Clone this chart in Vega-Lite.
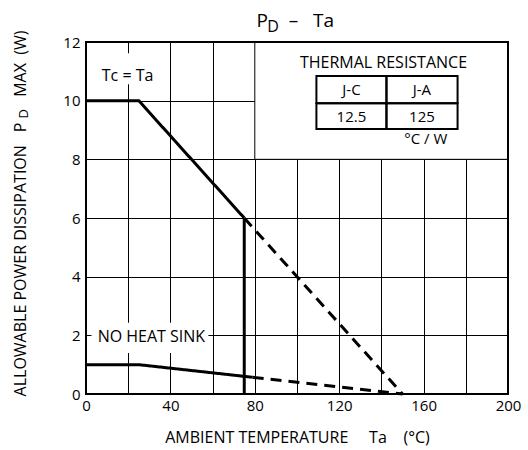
{
  "$schema": "https://vega.github.io/schema/vega-lite/v6.json",
  "width": 422,
  "height": 352,
  "autosize": {"type": "none"},
  "padding": {"left": 86, "top": 42, "right": 20, "bottom": 56},
  "background": "white",
  "config": {
    "view": {"stroke": null},
    "font": "Open Sans",
    "axis": {
      "grid": true,
      "gridColor": "black",
      "gridOpacity": 1,
      "gridWidth": 1,
      "ticks": false,
      "domain": false,
      "labelFont": "Open Sans",
      "labelFontSize": 15,
      "labelColor": "black",
      "labelFlush": false,
      "labelOverlap": false,
      "titleFont": "Open Sans",
      "titleFontSize": 16,
      "titleFontWeight": "normal",
      "titleColor": "black"
    }
  },
  "datasets": {
    "curves": [
      {"s": "tc", "style": "solid", "x": 0, "y": 10},
      {"s": "tc", "style": "solid", "x": 25, "y": 10},
      {"s": "tc", "style": "solid", "x": 75, "y": 6},
      {"s": "tc2", "style": "dashed", "x": 75, "y": 6},
      {"s": "tc2", "style": "dashed", "x": 150, "y": 0},
      {"s": "nh", "style": "solid", "x": 0, "y": 1},
      {"s": "nh", "style": "solid", "x": 25, "y": 1},
      {"s": "nh", "style": "solid", "x": 79, "y": 0.57},
      {"s": "nh2", "style": "dashed", "x": 79, "y": 0.57},
      {"s": "nh2", "style": "dashed", "x": 150, "y": 0}
    ],
    "inset": [{"x": 80, "x2": 200, "y": 8, "y2": 12}],
    "labelboxes": [
      {"x": 1.7, "x2": 36.3, "y": 10.56, "y2": 11.62},
      {"x": 2.6, "x2": 58, "y": 1.4, "y2": 2.43}
    ],
    "cells": [
      {"x": 109.2, "x2": 142.4, "y": 9.91, "y2": 10.84},
      {"x": 142.4, "x2": 176.1, "y": 9.91, "y2": 10.84},
      {"x": 109.2, "x2": 142.4, "y": 9.03, "y2": 9.91},
      {"x": 142.4, "x2": 176.1, "y": 9.03, "y2": 9.91}
    ],
    "notes16": [
      {"t": "THERMAL RESISTANCE", "x": 141, "y": 11.3},
      {"t": "Tc = Ta", "x": 19.7, "y": 10.85},
      {"t": "NO HEAT SINK", "x": 31, "y": 1.93}
    ],
    "notes15": [
      {"t": "J-C", "x": 125.8, "y": 10.36},
      {"t": "J-A", "x": 159.2, "y": 10.36},
      {"t": "12.5", "x": 125.8, "y": 9.45},
      {"t": "125", "x": 159.2, "y": 9.45},
      {"t": "°C / W", "x": 161, "y": 8.7}
    ],
    "title18": [
      {"t": "P", "x": 83.5, "y": 12.51},
      {"t": "–", "x": 98.3, "y": 12.51},
      {"t": "Ta", "x": 112.6, "y": 12.51}
    ],
    "titlesub": [{"t": "D", "x": 88.6, "y": 12.34}],
    "ytitle": [
      {"t": "ALLOWABLE POWER DISSIPATION", "x": -31, "y": 4.2},
      {"t": "P", "x": -31, "y": 9.09},
      {"t": "MAX\u00a0\u00a0(W)", "x": -31, "y": 11.26}
    ],
    "ytitlesub": [{"t": "D", "x": -29.5, "y": 9.55}],
    "frame": [{"x": 0, "x2": 200, "y": 0, "y2": 12}],
    "vline": [{"x": 75, "y": 0, "y2": 6}]
  },
  "layer": [
    {
      "data": {"name": "inset"},
      "mark": {"type": "rect", "fill": "white", "stroke": "black", "strokeWidth": 1},
      "encoding": {
        "x": {"field": "x", "type": "quantitative", "scale": {"domain": [0, 200], "nice": false},
          "axis": {
            "values": [0, 20, 40, 60, 80, 100, 120, 140, 160, 180, 200],
            "labelExpr": "datum.value % 40 === 0 ? datum.label : ''",
            "labelPadding": 4,
            "title": "AMBIENT TEMPERATURE\u00a0\u00a0\u00a0\u00a0\u00a0Ta\u00a0\u00a0\u00a0\u00a0(°C)",
            "titlePadding": 16
          }},
        "x2": {"field": "x2"},
        "y": {"field": "y", "type": "quantitative", "scale": {"domain": [0, 12], "nice": false},
          "axis": {
            "values": [0, 1, 2, 3, 4, 5, 6, 7, 8, 9, 10, 11, 12],
            "labelExpr": "datum.value % 2 === 0 ? datum.label : ''",
            "labelPadding": 6,
            "title": null
          }},
        "y2": {"field": "y2"}
      }
    },
    {
      "data": {"name": "labelboxes"},
      "mark": {"type": "rect", "fill": "white"},
      "encoding": {
        "x": {"field": "x", "type": "quantitative"},
        "x2": {"field": "x2"},
        "y": {"field": "y", "type": "quantitative"},
        "y2": {"field": "y2"}
      }
    },
    {
      "data": {"name": "curves"},
      "mark": {"type": "line", "color": "black", "strokeWidth": 3},
      "encoding": {
        "x": {"field": "x", "type": "quantitative"},
        "y": {"field": "y", "type": "quantitative"},
        "detail": {"field": "s"},
        "strokeDash": {"field": "style", "type": "nominal",
          "scale": {"domain": ["solid", "dashed"], "range": [[1, 0], [11, 7]]},
          "legend": null}
      }
    },
    {
      "data": {"name": "vline"},
      "mark": {"type": "rule", "color": "black", "strokeWidth": 3},
      "encoding": {
        "x": {"field": "x", "type": "quantitative"},
        "y": {"field": "y", "type": "quantitative"},
        "y2": {"field": "y2"}
      }
    },
    {
      "data": {"name": "cells"},
      "mark": {"type": "rect", "fill": "transparent", "stroke": "black", "strokeWidth": 2},
      "encoding": {
        "x": {"field": "x", "type": "quantitative"},
        "x2": {"field": "x2"},
        "y": {"field": "y", "type": "quantitative"},
        "y2": {"field": "y2"}
      }
    },
    {
      "data": {"name": "notes16"},
      "mark": {"type": "text", "font": "Open Sans", "fontSize": 16, "color": "black", "align": "center", "baseline": "middle"},
      "encoding": {
        "x": {"field": "x", "type": "quantitative"},
        "y": {"field": "y", "type": "quantitative"},
        "text": {"field": "t"}
      }
    },
    {
      "data": {"name": "notes15"},
      "mark": {"type": "text", "font": "Open Sans", "fontSize": 15, "color": "black", "align": "center", "baseline": "middle"},
      "encoding": {
        "x": {"field": "x", "type": "quantitative"},
        "y": {"field": "y", "type": "quantitative"},
        "text": {"field": "t"}
      }
    },
    {
      "data": {"name": "title18"},
      "mark": {"type": "text", "font": "Open Sans", "fontSize": 19, "color": "black", "align": "center", "baseline": "alphabetic"},
      "encoding": {
        "x": {"field": "x", "type": "quantitative"},
        "y": {"field": "y", "type": "quantitative"},
        "text": {"field": "t"}
      }
    },
    {
      "data": {"name": "titlesub"},
      "mark": {"type": "text", "font": "Open Sans", "fontSize": 16, "color": "black", "align": "center", "baseline": "alphabetic"},
      "encoding": {
        "x": {"field": "x", "type": "quantitative"},
        "y": {"field": "y", "type": "quantitative"},
        "text": {"field": "t"}
      }
    },
    {
      "data": {"name": "ytitle"},
      "mark": {"type": "text", "font": "Open Sans", "fontSize": 16, "color": "black", "align": "center", "baseline": "middle", "angle": 270},
      "encoding": {
        "x": {"field": "x", "type": "quantitative"},
        "y": {"field": "y", "type": "quantitative"},
        "text": {"field": "t"}
      }
    },
    {
      "data": {"name": "ytitlesub"},
      "mark": {"type": "text", "font": "Open Sans", "fontSize": 13, "color": "black", "align": "center", "baseline": "middle", "angle": 270},
      "encoding": {
        "x": {"field": "x", "type": "quantitative"},
        "y": {"field": "y", "type": "quantitative"},
        "text": {"field": "t"}
      }
    },
    {
      "data": {"name": "frame"},
      "mark": {"type": "rect", "fill": "transparent", "stroke": "black", "strokeWidth": 2},
      "encoding": {
        "x": {"field": "x", "type": "quantitative"},
        "x2": {"field": "x2"},
        "y": {"field": "y", "type": "quantitative"},
        "y2": {"field": "y2"}
      }
    }
  ]
}
